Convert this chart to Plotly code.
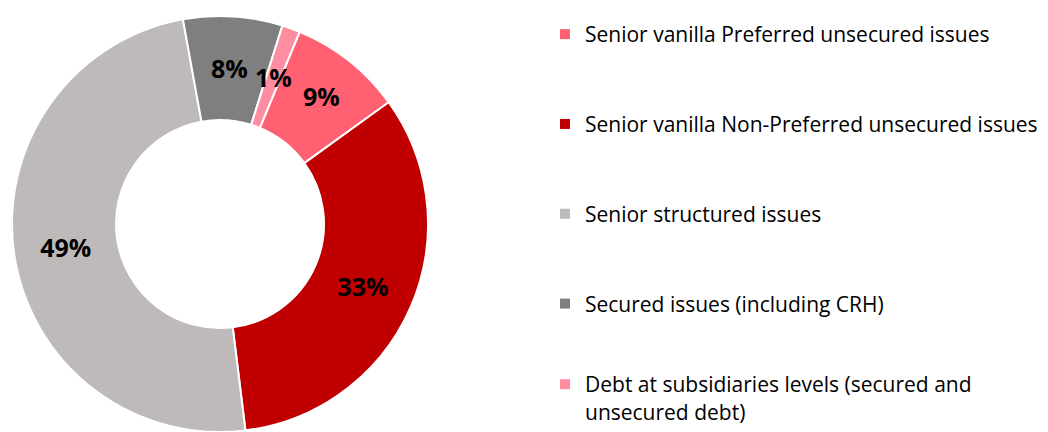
import math
import plotly.graph_objects as go

labels = [
    "Senior vanilla Preferred unsecured issues",
    "Senior vanilla Non-Preferred unsecured issues",
    "Senior structured issues",
    "Secured issues (including CRH)",
    "Debt at subsidiaries levels (secured and<br>unsecured debt)",
]
values = [8.8, 33.0, 49.1, 7.7, 1.4]
colors = ["#FF6173", "#C00000", "#BEBABA", "#7F7F7F", "#FF8DA1"]

FONT = "Open Sans"
W, H = 1048, 432
ROT = 22.5
HOLE = 0.5
dom_x = [12 / W, 428 / W]
dom_y = [0, 416 / H]

# narrow slices get their label placed at the mid-ring position
small = [v / sum(values) < 0.085 for v in values]
positions = ["none" if s else "inside" for s in small]

fig = go.Figure()
fig.add_trace(go.Pie(
    labels=labels, values=values, sort=False, direction="clockwise",
    rotation=ROT, hole=HOLE,
    marker=dict(colors=colors, line=dict(color="white", width=2)),
    texttemplate="<b>%{percent:.0%}</b>", textposition=positions,
    insidetextorientation="horizontal",
    textfont=dict(family=FONT, size=25, color="black"),
    showlegend=False, hoverinfo="skip",
    domain=dict(x=dom_x, y=dom_y),
))

cx_px = (dom_x[0] + dom_x[1]) / 2 * W
cy_px = (dom_y[0] + dom_y[1]) / 2 * H
R = min((dom_x[1] - dom_x[0]) * W, (dom_y[1] - dom_y[0]) * H) / 2
rmid = R * (1 + HOLE) / 2
total = sum(values)
cum = 0
for v, s in zip(values, small):
    mid = ROT + (cum + v / 2) / total * 360
    cum += v
    if s:
        a = math.radians(mid)
        fig.add_annotation(
            x=(cx_px + rmid * math.sin(a)) / W, y=(cy_px + rmid * math.cos(a)) / H,
            xref="paper", yref="paper", showarrow=False,
            xanchor="center", yanchor="middle",
            text=f"<b>{round(v / total * 100)}%</b>",
            font=dict(family=FONT, size=25, color="black"),
        )

n = len(labels)
for i, (lab, col) in enumerate(zip(labels, colors)):
    fig.add_trace(go.Scatter(
        x=[None], y=[None], mode="markers", name=lab, legendgroup=f"g{i}",
        legend="legend2" if i == n - 1 else "legend",
        marker=dict(symbol="square", size=10, color=col),
    ))

legend_font = dict(family=FONT, size=21, color="black")
fig.update_layout(
    width=W, height=H, margin=dict(l=0, r=0, t=0, b=0),
    paper_bgcolor="white", plot_bgcolor="white",
    xaxis=dict(visible=False), yaxis=dict(visible=False),
    legend=dict(x=545 / W, y=1 - 14 / H, xanchor="left", yanchor="top",
                font=legend_font, tracegroupgap=59.5, valign="top",
                bgcolor="rgba(0,0,0,0)"),
    legend2=dict(x=545 / W, y=0, xanchor="left", yanchor="bottom",
                 font=legend_font, valign="top", bgcolor="rgba(0,0,0,0)"),
)
fig.write_html("out.html")
